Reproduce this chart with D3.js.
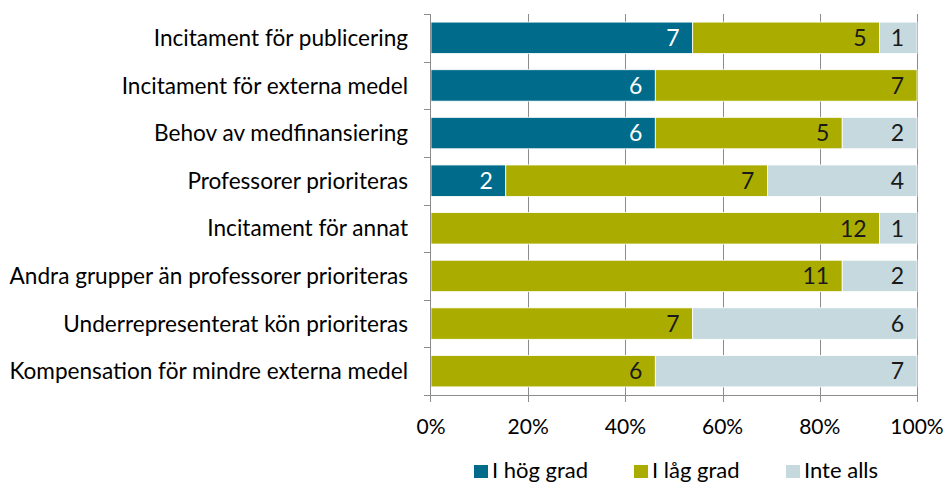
<!DOCTYPE html>
<html><head><meta charset="utf-8">
<script src="https://cdn.jsdelivr.net/npm/d3@7"></script>
<style>body{margin:0;background:#fff;} text{font-family:Lato,"Open Sans",sans-serif;}</style>
</head><body>
<svg id="c" width="945" height="482"></svg>
<script>
const categories = ["Incitament för publicering","Incitament för externa medel","Behov av medfinansiering","Professorer prioriteras","Incitament för annat","Andra grupper än professorer prioriteras","Underrepresenterat kön prioriteras","Kompensation för mindre externa medel"];
const seriesNames = ["I hög grad","I låg grad","Inte alls"];
const hog = [7,6,6,2,0,0,0,0];
const lag = [5,7,5,7,12,11,7,6];
const inte = [1,0,2,4,1,2,6,7];
const tickLabels = ["0%","20%","40%","60%","80%","100%"];
const colors = ["#006B8B","#AAAD00","#C5D9DF"];
const labelColors = ["#ffffff","#1a1a1a","#1a1a1a"];

const svg = d3.select("#c");
const pL = 431, pR = 917, pT = 14, pB = 395;
const x = d3.scaleLinear().domain([0,1]).range([pL,pR]);
const y = d3.scaleBand().domain(categories).range([pT,pB]).paddingInner(0.34).paddingOuter(0.17);
const yb = d3.scaleBand().domain(categories).range([pT,pB]);
const axisCol = "#8c8c8c";

// gridlines (extend as ticks below the axis)
svg.append("g").selectAll("line").data([0.2,0.4,0.6,0.8,1]).join("line")
  .attr("x1",d=>Math.round(x(d))+0.5).attr("x2",d=>Math.round(x(d))+0.5).attr("y1",pT).attr("y2",pB+7)
  .attr("stroke",axisCol).attr("stroke-width",1);

const rows = categories.map((c,i)=>{
  const vals=[hog[i],lag[i],inte[i]]; const tot=d3.sum(vals); let acc=0;
  return vals.map((v,k)=>{const s={cat:c,k,v,x0:acc/tot,x1:(acc+v)/tot}; acc+=v; return s;});
}).flat().filter(d=>d.v>0);

svg.append("g").selectAll("rect").data(rows).join("rect")
  .attr("x",d=>x(d.x0)).attr("width",d=>x(d.x1)-x(d.x0))
  .attr("y",d=>y(d.cat)).attr("height",y.bandwidth())
  .attr("fill",d=>colors[d.k]).attr("stroke","#ffffff").attr("stroke-width",0.8);

svg.append("g").selectAll("text").data(rows).join("text")
  .attr("x",d=>x(d.x1)-13).attr("y",d=>y(d.cat)+y.bandwidth()/2)
  .attr("dy","0.36em").attr("text-anchor","end")
  .attr("font-size",23).attr("fill",d=>labelColors[d.k]).text(d=>d.v);

// y axis
svg.append("line").attr("x1",pL-0.5).attr("x2",pL-0.5).attr("y1",pT).attr("y2",pB+7).attr("stroke",axisCol);
svg.append("g").selectAll("line").data(d3.range(categories.length+1)).join("line")
  .attr("x1",pL-7).attr("x2",pL).attr("y1",i=>Math.round(pT+i*yb.step())+0.5).attr("y2",i=>Math.round(pT+i*yb.step())+0.5)
  .attr("stroke",axisCol);
svg.append("g").selectAll("text").data(categories).join("text")
  .attr("x",408).attr("y",d=>yb(d)+yb.bandwidth()/2).attr("dy","0.36em")
  .attr("text-anchor","end").attr("font-size",22.6).attr("fill","#000").text(d=>d);

// x axis
svg.append("line").attr("x1",pL).attr("x2",pR).attr("y1",pB+0.5).attr("y2",pB+0.5).attr("stroke",axisCol);
svg.append("g").selectAll("text").data(tickLabels).join("text")
  .attr("x",(d,i)=>x(i*0.2)).attr("y",426).attr("dy","0.36em").attr("text-anchor","middle")
  .attr("font-size",21).attr("fill","#000").text(d=>d);

// legend
const legX=[474,634,786];
const lg = svg.append("g").selectAll("g").data(seriesNames).join("g");
lg.append("rect").attr("x",(d,i)=>legX[i]).attr("y",465).attr("width",14).attr("height",13).attr("fill",(d,i)=>colors[i]);
lg.append("text").attr("x",(d,i)=>legX[i]+18).attr("y",470).attr("dy","0.36em").attr("font-size",22).attr("fill","#000").text(d=>d);
</script>
</body></html>
